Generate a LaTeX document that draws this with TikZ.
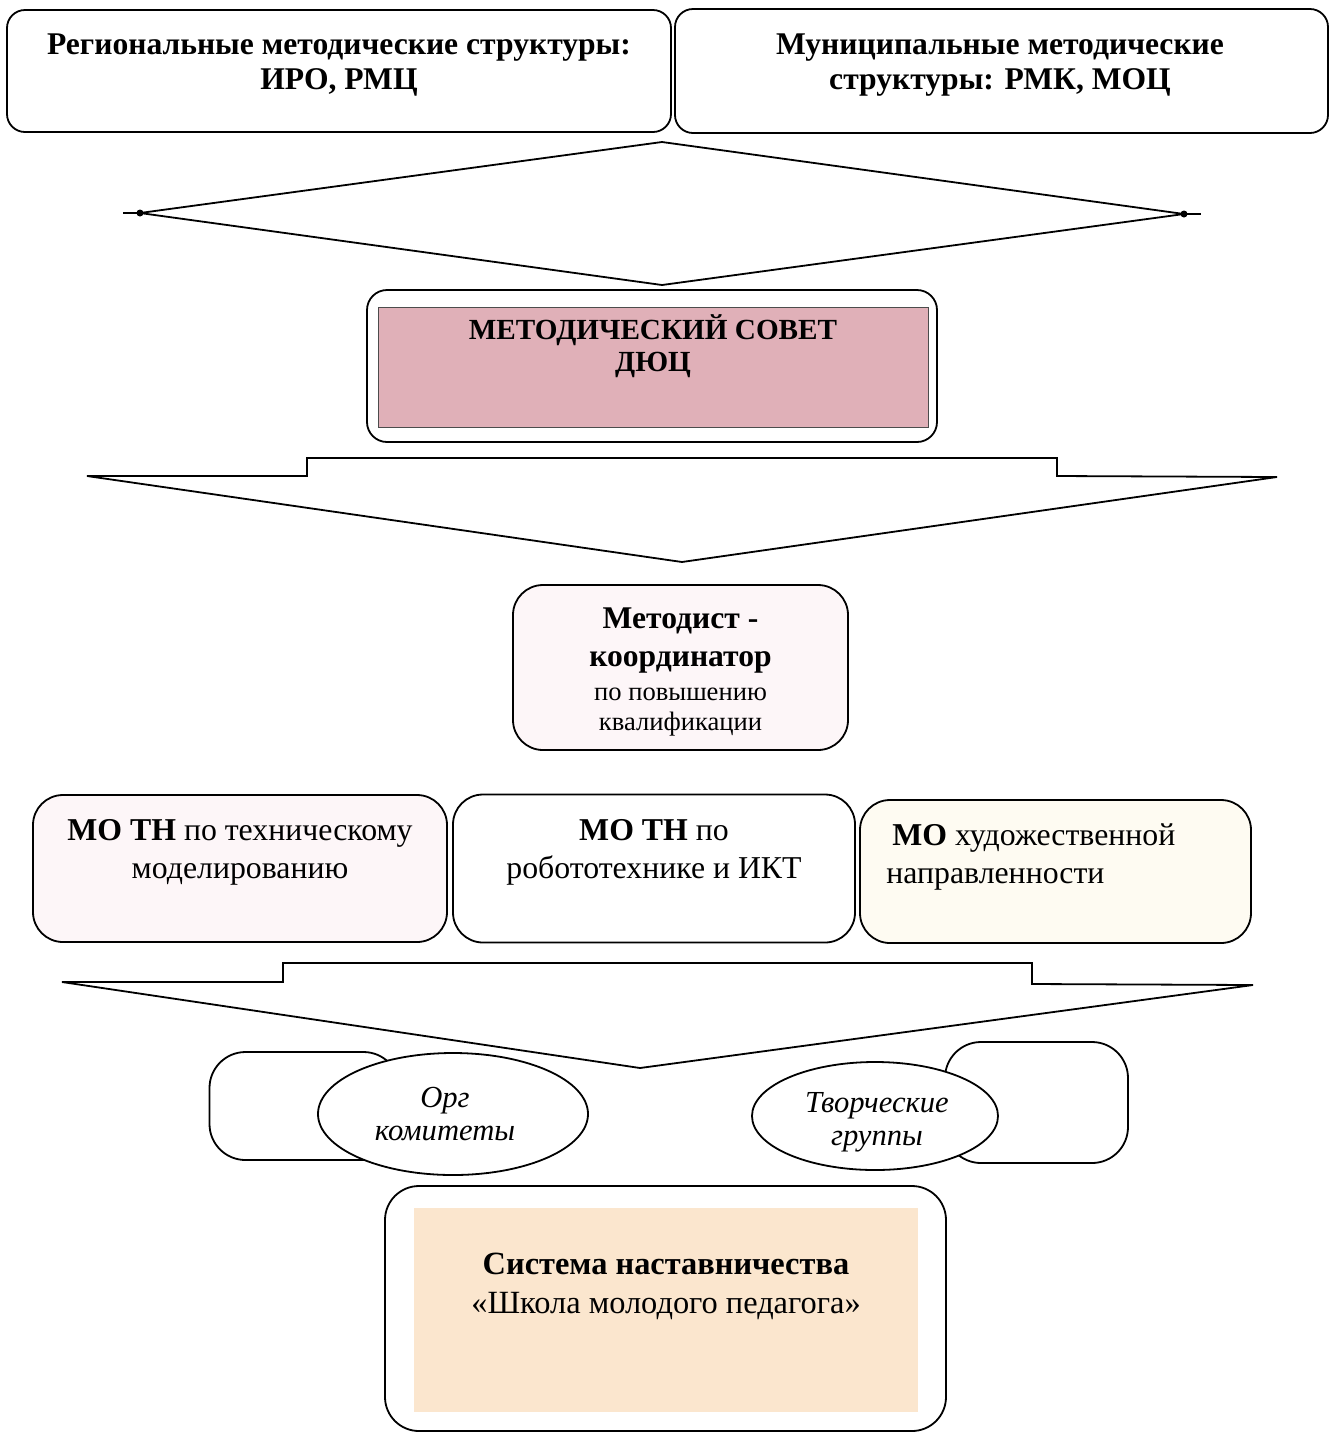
\documentclass[tikz,border=0pt]{standalone}
\usepackage{fontspec}
\setmainfont{Liberation Serif}
\usepackage{tikz}
\usetikzlibrary{shapes,arrows}
\usetikzlibrary{calc}
\definecolor{sovetpink}{RGB}{224,176,184}
\definecolor{peach}{RGB}{251,230,206}
\definecolor{palepink}{RGB}{253,246,248}
\definecolor{palecream}{RGB}{254,251,242}
\tikzstyle{topblock} = [rectangle, draw, line width=0.9pt, rounded corners=9pt, fill=white]
\tikzstyle{moblock} = [rectangle, draw, line width=0.9pt, rounded corners=15pt, fill=white]
\tikzstyle{textblock} = [align=center, inner sep=0pt]
\tikzstyle{groupblock} = [ellipse, draw, line width=0.9pt, fill=white, inner sep=0pt]
\tikzstyle{bigarrow} = [draw, line width=0.9pt, line join=miter, fill=white]

\begin{document}
\begin{tikzpicture}[x=0.5pt, y=-0.5pt, node distance = 2cm, auto]
    \useasboundingbox (0,0) rectangle (1335,1432);
    % top row
    \node [topblock, minimum width=332pt, minimum height=61pt] (regional) at (339,71) {};
    \node [topblock, right of=regional, node distance=331.25pt, minimum width=326.5pt, minimum height=62pt] (municipal) {};
    \node [textblock, font=\fontsize{15.8}{17.5}\selectfont\bfseries] (regionaltext) at (339,65) {Региональные методические структуры:\\ИРО, РМЦ};
    \node [textblock, font=\fontsize{15.8}{17.5}\selectfont\bfseries] (municipaltext) at (1000,65) {Муниципальные методические\\структуры: РМК, МОЦ};
    % double arrow
    \draw [bigarrow] (140,213) -- (662,142) -- (1184,214) -- (662,285) -- cycle;
    \draw [line width=0.9pt] (123,213) -- (140,213) (1184,214) -- (1201,214);
    \fill (140,213) circle (3.5) (1184,214) circle (3.5);
    % council
    \node [moblock, rounded corners=10pt, minimum width=285pt, minimum height=76pt] (sovet) at (652,366) {};
    \node [rectangle, draw=black!70, fill=sovetpink, minimum width=275pt, minimum height=60pt] (sovetfill) at (653,367) {};
    \node [textblock, font=\fontsize{14.6}{16}\selectfont\bfseries] (sovettext) at (653,346) {МЕТОДИЧЕСКИЙ СОВЕТ\\ДЮЦ};
    \draw [bigarrow] (307,458) -- (1057,458) -- (1057,476) -- (1277,477) -- (682,562) -- (87,476) -- (307,476) -- cycle;
    % methodist
    \node [moblock, fill=palepink, minimum width=167.5pt, minimum height=82.5pt] (metodist) at (680.5,667.5) {};
    \node [textblock, font=\fontsize{15.8}{19}\selectfont\bfseries] (metodisttext) at (680.5,641) {Методист -\\координатор};
    \node [textblock, font=\fontsize{13.3}{15}\selectfont] (metodistnote) at (680.5,712) {по повышению\\квалификации};
    % associations
    \node [moblock, fill=palepink, minimum width=207pt, minimum height=73.5pt] (motech) at (240,868.5) {};
    \node [moblock, right of=motech, node distance=207pt, minimum width=201pt, minimum height=74pt] (morobot) {};
    \node [moblock, fill=palecream, minimum width=195.5pt, minimum height=71.5pt] (moart) at (1055.5,871.5) {};
    \node [textblock, font=\fontsize{15.9}{19}\selectfont] (motechtext) at (240,852) {\textbf{МО ТН} по техническому\\моделированию};
    \node [textblock, font=\fontsize{15.9}{19}\selectfont] (morobottext) at (654,852) {\textbf{МО ТН} по\\робототехнике и ИКТ};
    \node [textblock, align=left, font=\fontsize{15.9}{19}\selectfont, anchor=west] (moarttext) at (886,857) {\hspace{3pt}\textbf{МО} художественной\\направленности};
    \draw [bigarrow] (283,963) -- (1032,963) -- (1032,984) -- (1253,985) -- (640,1068) -- (62,982) -- (283,982) -- cycle;
    % groups
    \node [moblock, rounded corners=18pt, minimum width=95pt, minimum height=54pt] (orgback) at (304.5,1106) {};
    \node [moblock, rounded corners=18pt, minimum width=91.5pt, minimum height=60.5pt] (tvorback) at (1036.5,1102.5) {};
    \node [groupblock, minimum width=135pt, minimum height=61pt] (org) at (453,1114) {};
    \node [groupblock, minimum width=123pt, minimum height=54pt] (tvor) at (875,1116) {};
    \node [textblock, font=\fontsize{15.3}{16.5}\selectfont\itshape] (orgtext) at (445,1114) {Орг\\комитеты};
    \node [textblock, font=\fontsize{15.3}{16.5}\selectfont\itshape] (tvortext) at (877,1122) {Творческие\\группы};
    % mentoring
    \node [moblock, rounded corners=17pt, minimum width=280.5pt, minimum height=122.5pt] (mentor) at (665.5,1308.5) {};
    \node [rectangle, fill=peach, minimum width=252pt, minimum height=102pt] (mentorfill) at (666,1310) {};
    \node [textblock, font=\fontsize{16.2}{19.5}\selectfont] (mentortext) at (666,1286) {\textbf{Система наставничества}\\«Школа молодого педагога»};
\end{tikzpicture}
\end{document}
